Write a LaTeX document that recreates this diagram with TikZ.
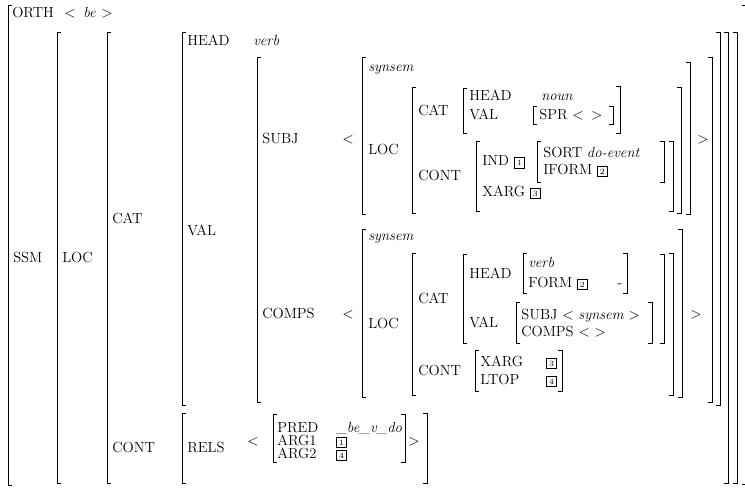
\documentclass[tikz,border=0pt]{standalone}
\newcommand{\tagbox}[1]{{\setlength{\fboxsep}{1.7pt}\setlength{\fboxrule}{0.45pt}\fbox{\fontsize{6}{7}\selectfont #1}}}
\newcommand{\avmL}[3]{\draw[brk] ({#1+4},#2) -- (#1,#2) -- (#1,#3) -- ({#1+4},#3);}
\newcommand{\avmR}[3]{\draw[brk] ({#1-4},#2) -- (#1,#2) -- (#1,#3) -- ({#1-4},#3);}
\begin{document}
\begin{tikzpicture}[x=0.75pt,y=-0.75pt,
  txt/.style={anchor=base west,inner sep=0pt,font=\fontsize{11}{13}\selectfont},
  brk/.style={line width=0.5pt}]
\fill[white] (0,0) rectangle (745,489);
\useasboundingbox (0,0) rectangle (745,489);
% ---- left brackets
\avmL{8}{5}{485}
\avmL{57}{32}{483}
\avmL{107}{32}{483}
\avmL{182}{32}{405}
\avmL{182}{413}{483}
\avmL{257}{57}{402}
\avmL{362}{57}{214}
\avmL{412}{87}{213}
\avmL{463}{88}{133}
\avmL{533}{106}{124}
\avmL{476}{141}{211}
\avmL{537}{141}{182}
\avmL{362}{229}{397}
\avmL{412}{253}{395}
\avmL{463}{254}{343}
\avmL{523}{253}{293}
\avmL{516}{302}{343}
\avmL{475}{350}{391}
\avmL{273}{414}{462}
% ---- right brackets
\avmR{745.6}{5}{484}
\avmR{737}{32}{483}
\avmR{728}{32}{483}
\avmR{720}{32}{405}
\avmR{712}{57}{402}
\avmR{690}{62}{214}
\avmR{681}{87}{213}
\avmR{673}{141}{211}
\avmR{664}{141}{182}
\avmR{620}{86}{133}
\avmR{613}{106}{124}
\avmR{682}{229}{397}
\avmR{673}{253}{395}
\avmR{664}{254}{343}
\avmR{652}{302}{343}
\avmR{627}{253}{293}
\avmR{562}{350}{391}
\avmR{405}{414}{462}
\avmR{427}{413}{483}
% ---- texts
\node[txt] (orth) at (12,17) {ORTH};
\node[txt] (ltz) at (64,17) {$<$};
\node[txt] (be) at (83,17) {\textit{be}};
\node[txt] (gtz) at (101,17) {$>$};
\node[txt] (ssm) at (13,262) {SSM};
\node[txt] (loc) at (62,262) {LOC};
\node[txt] (cat) at (112,223) {CAT};
\node[txt] (cont) at (112,452) {CONT};
\node[txt] (head) at (187,45) {HEAD};
\node[txt] (verb) at (253,45) {\textit{verb}};
\node[txt] (val) at (187,235) {VAL};
% SUBJ
\node[txt] (subj) at (262,143) {SUBJ};
\node[txt] (lta) at (342,143) {$<$};
\node[txt] (gta) at (697,143) {$>$};
\node[txt] (syna) at (368,71) {\textit{synsem}};
\node[txt] (loca) at (368,154) {LOC};
\node[txt] (cata) at (418,115) {CAT};
\node[txt] (heada) at (469,100.5) {HEAD};
\node[txt] (noun) at (541,100.5) {\textit{noun}};
\node[txt] (vala) at (469,119) {VAL};
\node[txt] (spr) at (539,119) {SPR $<$\hspace{2pt} $>$};
\node[txt] (conta) at (418,180) {CONT};
\node[txt] (ind) at (482,165.5) {IND \tagbox{1}};
\node[txt] (sort) at (543,157) {SORT \textit{do-event}};
\node[txt] (iform) at (543,174) {IFORM \tagbox{2}};
\node[txt] (xarga) at (482,196) {XARG \tagbox{3}};
% COMPS
\node[txt] (comps) at (262,318) {COMPS};
\node[txt] (ltb) at (342,318) {$<$};
\node[txt] (gtb) at (690,318) {$>$};
\node[txt] (synb) at (368,240) {\textit{synsem}};
\node[txt] (locb) at (368,328) {LOC};
\node[txt] (catb) at (418,303) {CAT};
\node[txt] (headb) at (469,278) {HEAD};
\node[txt] (verbb) at (528,267) {\textit{verb}};
\node[txt] (form) at (528,287) {FORM \tagbox{2}};
\node[txt] (dash) at (617,287) {-};
\node[txt] (valb) at (469,327) {VAL};
\node[txt] (subjb) at (521,319) {SUBJ $<$ \textit{synsem} $>$};
\node[txt] (compsb) at (521,336) {COMPS $<$ $>$};
\node[txt] (contb) at (418,375) {CONT};
\node[txt] (xargb) at (480,366) {XARG};
\node[txt] (bxe) at (546,366) {\tagbox{3}};
\node[txt] (ltop) at (480,384) {LTOP};
\node[txt] (bxf) at (546,384) {\tagbox{4}};
% RELS
\node[txt] (rels) at (187,452) {RELS};
\node[txt] (ltc) at (247,445) {$<$};
\node[txt] (gtc) at (408,445) {$>$};
\node[txt] (pred) at (277,432) {PRED};
\node[txt] (predv) at (336,432) {\textit{\_be\_v\_do}};
\node[txt] (arga) at (277,445) {ARG1};
\node[txt] (argav) at (336,445) {\tagbox{1}};
\node[txt] (argb) at (277,458) {ARG2};
\node[txt] (argbv) at (336,458) {\tagbox{4}};
\end{tikzpicture}
\end{document}
